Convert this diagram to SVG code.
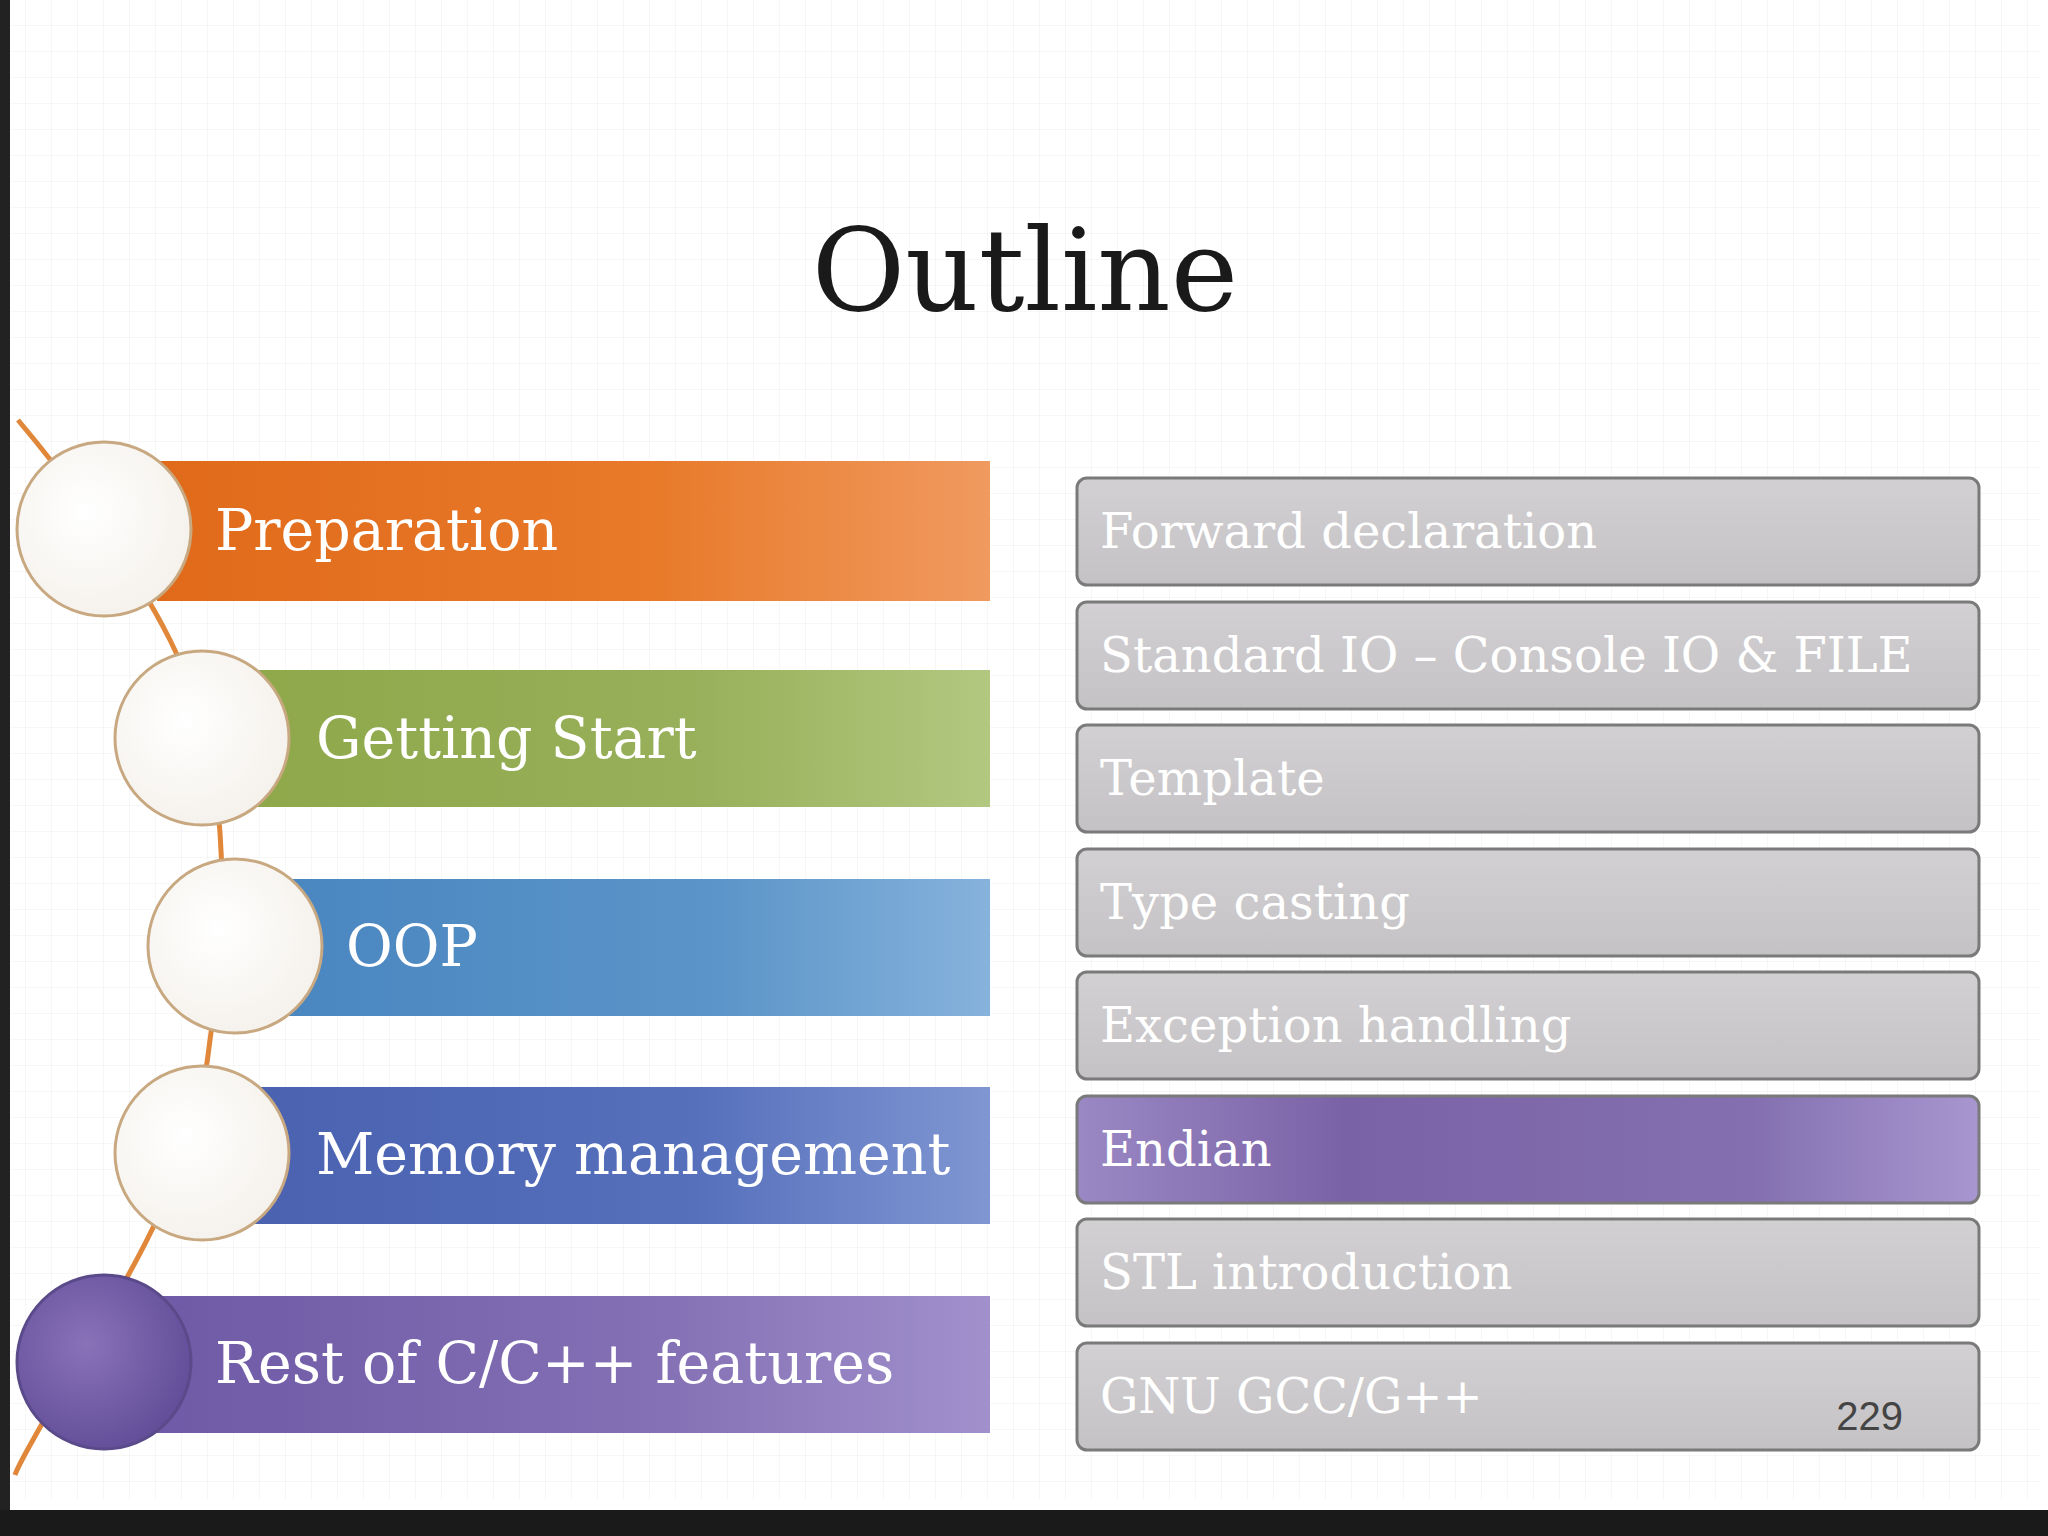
<svg xmlns="http://www.w3.org/2000/svg" width="2048" height="1536" viewBox="0 0 2048 1536">
<defs>
<pattern id="grid" width="26" height="26" patternUnits="userSpaceOnUse"><path d="M26 0V26M0 26H26" fill="none" stroke="#eeeeee" stroke-width="1"/></pattern>
<linearGradient id="gOr" x1="0" x2="1"><stop offset="0" stop-color="#e06a1a"/><stop offset="0.6" stop-color="#e87a2a"/><stop offset="1" stop-color="#f09a60"/></linearGradient>
<linearGradient id="gGr" x1="0" x2="1"><stop offset="0" stop-color="#8ea84a"/><stop offset="0.6" stop-color="#98b05a"/><stop offset="1" stop-color="#b2c880"/></linearGradient>
<linearGradient id="gBl" x1="0" x2="1"><stop offset="0" stop-color="#4a86c0"/><stop offset="0.6" stop-color="#5a94c8"/><stop offset="1" stop-color="#86b2dc"/></linearGradient>
<linearGradient id="gNv" x1="0" x2="1"><stop offset="0" stop-color="#4a62b0"/><stop offset="0.6" stop-color="#5670bc"/><stop offset="1" stop-color="#8096d2"/></linearGradient>
<linearGradient id="gPu" x1="0" x2="1"><stop offset="0" stop-color="#6e5aa6"/><stop offset="0.6" stop-color="#8470b4"/><stop offset="1" stop-color="#a090cc"/></linearGradient>
<linearGradient id="gEn" x1="0" x2="1"><stop offset="0" stop-color="#9a88c4"/><stop offset="0.3" stop-color="#7a62a6"/><stop offset="0.75" stop-color="#8470b0"/><stop offset="1" stop-color="#a896d0"/></linearGradient>
<linearGradient id="gGy" x1="0" x2="0" y1="0" y2="1"><stop offset="0" stop-color="#d2d0d2"/><stop offset="1" stop-color="#c4c2c4"/></linearGradient>
<radialGradient id="gC" cx="0.4" cy="0.4" r="0.7"><stop offset="0" stop-color="#ffffff"/><stop offset="1" stop-color="#f4f0ea"/></radialGradient>
<radialGradient id="gCp" cx="0.4" cy="0.4" r="0.7"><stop offset="0" stop-color="#8a72b8"/><stop offset="1" stop-color="#5e4a96"/></radialGradient>
</defs>
<style>
.lbl{font-family:"DejaVu Serif",serif;font-size:57px;fill:#ffffff}
.rl{font-family:"DejaVu Serif",serif;font-size:48px;fill:#ffffff}
.box{stroke:#7a7a7a;stroke-width:3}
.circ{stroke:#c8a880;stroke-width:3}
</style>
<rect width="2048" height="1536" fill="#ffffff"/>
<rect x="10" y="0" width="2030" height="1500" fill="url(#grid)"/>
<rect x="0" y="0" width="10" height="1536" fill="#222"/>
<rect x="0" y="1510" width="2048" height="26" fill="#1a1a1a"/>
<text x="1025" y="310" text-anchor="middle" font-family="DejaVu Serif, serif" font-size="114" fill="#1a1a1a">Outline</text>
<g id="connectors">
<path d="M18 420 C60 470 130 560 170 640 C230 760 230 900 210 1040 C195 1180 120 1290 60 1390 C40 1430 20 1460 15 1475" fill="none" stroke="#e0873a" stroke-width="5"/>
</g>
<g id="n1"><rect x="157" y="461" width="833" height="140" fill="url(#gOr)"/><circle cx="104" cy="529" r="87" fill="url(#gC)" class="circ"/><text class="lbl" x="215" y="550">Preparation</text></g>
<g id="n2"><rect x="255" y="670" width="735" height="137" fill="url(#gGr)"/><circle cx="202" cy="738" r="87" fill="url(#gC)" class="circ"/><text class="lbl" x="316" y="758">Getting Start</text></g>
<g id="n3"><rect x="287" y="879" width="703" height="137" fill="url(#gBl)"/><circle cx="235" cy="946" r="87" fill="url(#gC)" class="circ"/><text class="lbl" x="346" y="966">OOP</text></g>
<g id="n4"><rect x="255" y="1087" width="735" height="137" fill="url(#gNv)"/><circle cx="202" cy="1153" r="87" fill="url(#gC)" class="circ"/><text class="lbl" x="316" y="1174">Memory management</text></g>
<g id="n5"><rect x="157" y="1296" width="833" height="137" fill="url(#gPu)"/><circle cx="104" cy="1362" r="87" fill="url(#gCp)" stroke="#5a4a8a" stroke-width="3"/><text class="lbl" x="215" y="1383">Rest of C/C++ features</text></g>
<g id="r1"><rect class="box" x="1077" y="478" width="902" height="107" rx="10" fill="url(#gGy)"/><text class="rl" x="1100" y="548">Forward declaration</text></g>
<g id="r2"><rect class="box" x="1077" y="602" width="902" height="107" rx="10" fill="url(#gGy)"/><text class="rl" x="1100" y="672">Standard IO – Console IO &amp; FILE</text></g>
<g id="r3"><rect class="box" x="1077" y="725" width="902" height="107" rx="10" fill="url(#gGy)"/><text class="rl" x="1100" y="795">Template</text></g>
<g id="r4"><rect class="box" x="1077" y="849" width="902" height="107" rx="10" fill="url(#gGy)"/><text class="rl" x="1100" y="919">Type casting</text></g>
<g id="r5"><rect class="box" x="1077" y="972" width="902" height="107" rx="10" fill="url(#gGy)"/><text class="rl" x="1100" y="1042">Exception handling</text></g>
<g id="r6"><rect class="box" x="1077" y="1096" width="902" height="107" rx="10" fill="url(#gEn)"/><text class="rl" x="1100" y="1166">Endian</text></g>
<g id="r7"><rect class="box" x="1077" y="1219" width="902" height="107" rx="10" fill="url(#gGy)"/><text class="rl" x="1100" y="1289">STL introduction</text></g>
<g id="r8"><rect class="box" x="1077" y="1343" width="902" height="107" rx="10" fill="url(#gGy)"/><text class="rl" x="1100" y="1413">GNU GCC/G++</text></g>
<text x="1903" y="1430" text-anchor="end" font-family="Liberation Sans, Arial, sans-serif" font-size="40" fill="#444">229</text>
</svg>
